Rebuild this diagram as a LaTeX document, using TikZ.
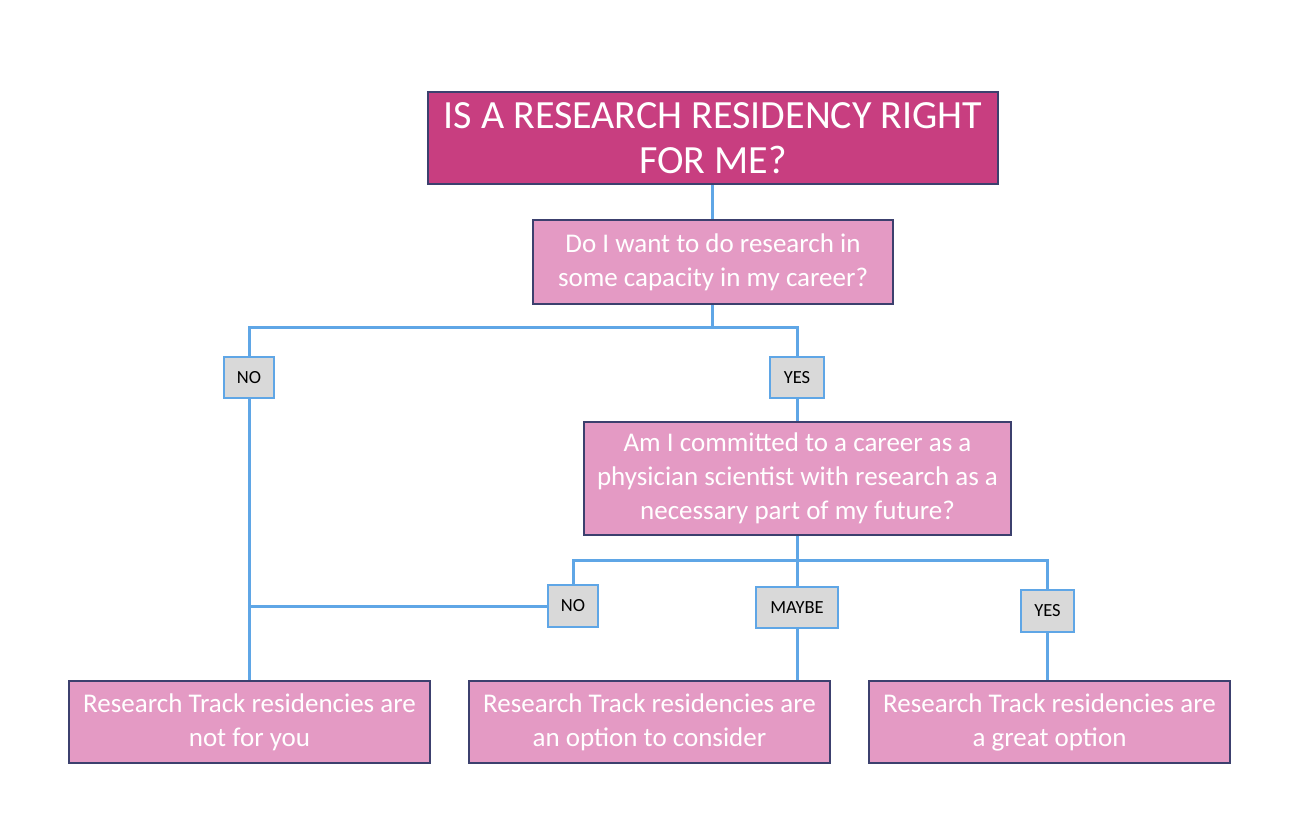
\documentclass[tikz,border=0pt]{standalone}
\usepackage{fontspec}
\setmainfont{Carlito}
\definecolor{titlefill}{HTML}{C83E80}
\definecolor{boxfill}{HTML}{E49AC4}
\definecolor{boxedge}{HTML}{3C406E}
\definecolor{linkblue}{HTML}{5FA6E6}
\definecolor{labfill}{HTML}{D9D9D9}
\begin{document}
\begin{tikzpicture}[x=1pt,y=-1pt,
  qbox/.style={draw=boxedge,line width=2.5pt,fill=boxfill,text=white,align=center,inner sep=0pt,font=\fontsize{27}{34}\selectfont},
  tbox/.style={qbox,fill=titlefill,font=\fontsize{40}{45}\selectfont},
  lab/.style={draw=linkblue,line width=2.8pt,fill=labfill,text=black,inner sep=0pt,font=\fontsize{18.5}{20}\selectfont},
  link/.style={draw=linkblue,line width=3pt}]
\useasboundingbox (0,0) rectangle (1296,826);
\fill[white] (0,0) rectangle (1296,826);
\coordinate (j1) at (712,328);
\coordinate (j2) at (797,560);
\node[tbox,minimum width=570pt,minimum height=92pt] (title) at (713,138) {IS A RESEARCH RESIDENCY RIGHT\\FOR ME?};
\node[qbox,minimum width=360pt,minimum height=84pt] (q1) at (713,262) {Do I want to do research in\\some capacity in my career?};
\node[lab,minimum width=50pt,minimum height=41pt] (no1) at (249,377.5) {NO};
\node[lab,minimum width=54pt,minimum height=41pt] (yes1) at (797,377.5) {YES};
\node[qbox,minimum width=427pt,minimum height=113pt] (q2) at (797.5,478.5) {Am I committed to a career as a\\physician scientist with research as a\\necessary part of my future?};
\node[lab,minimum width=50pt,minimum height=42pt] (no2) at (573,606) {NO};
\node[lab,minimum width=82pt,minimum height=41pt] (maybe) at (797,607.5) {MAYBE};
\node[lab,minimum width=53pt,minimum height=42pt] (yes2) at (1047.5,611) {YES};
\node[qbox,minimum width=361pt,minimum height=82pt] (r1) at (249.5,722) {Research Track residencies are\\not for you};
\node[qbox,minimum width=361pt,minimum height=82pt] (r2) at (649.5,722) {Research Track residencies are\\an option to consider};
\node[qbox,minimum width=361pt,minimum height=82pt] (r3) at (1049.5,722) {Research Track residencies are\\a great option};
\draw[link] (title.south -| j1) -- (q1.north -| j1);
\draw[link] (q1.south -| j1) -- (j1) -| (no1.north);
\draw[link] (j1) -| (yes1.north);
\draw[link] (yes1.south) -- (yes1.south |- q2.north);
\draw[link] (q2.south -| j2) -- (j2) -| (no2.north);
\draw[link] (j2) -| (yes2.north);
\draw[link] (j2) -- (maybe.north);
\draw[link] (no1.south) -- (no1.south |- r1.north);
\draw[link] (no2.west) -- (no2.west -| no1.south);
\draw[link] (maybe.south) -- (maybe.south |- r2.north);
\draw[link] (yes2.south) -- (yes2.south |- r3.north);
\end{tikzpicture}
\end{document}
